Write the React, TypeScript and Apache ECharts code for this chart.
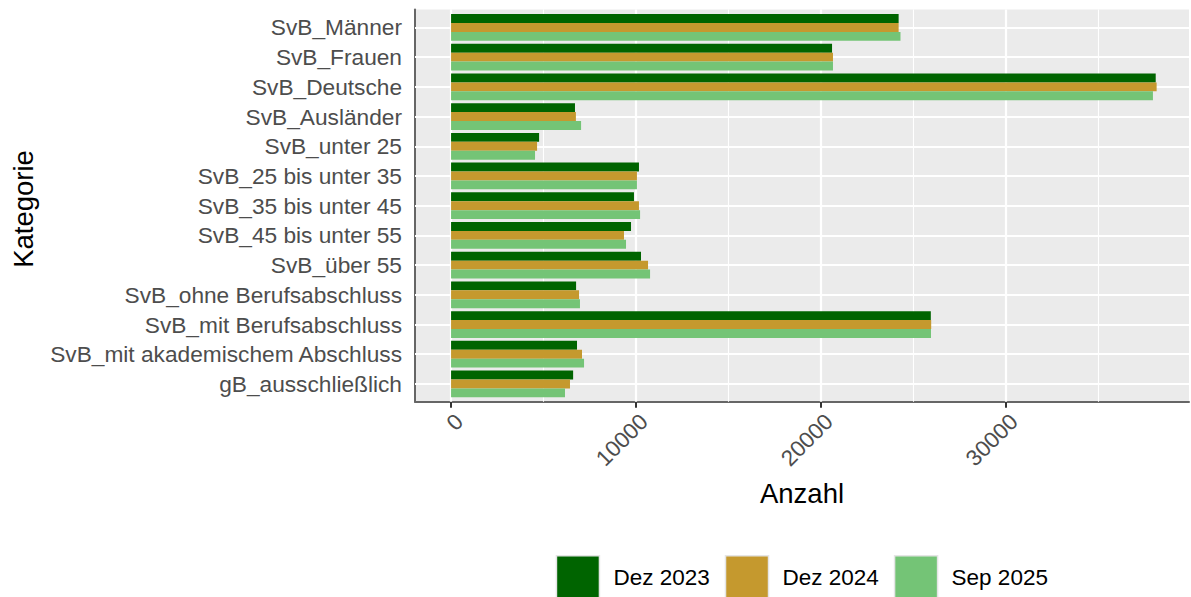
import React, { useEffect, useRef } from "react";
import * as echarts from "echarts";

const categories = [
  "SvB_Männer",
  "SvB_Frauen",
  "SvB_Deutsche",
  "SvB_Ausländer",
  "SvB_unter 25",
  "SvB_25 bis unter 35",
  "SvB_35 bis unter 45",
  "SvB_45 bis unter 55",
  "SvB_über 55",
  "SvB_ohne Berufsabschluss",
  "SvB_mit Berufsabschluss",
  "SvB_mit akademischem Abschluss",
  "gB_ausschließlich",
];
const seriesNames = ["Dez 2023", "Dez 2024", "Sep 2025"];
const dez2023 = [24200, 20600, 38100, 6700, 4760, 10160, 9890, 9730, 10270, 6760, 25940, 6810, 6600];
const dez2024 = [24200, 20650, 38150, 6750, 4650, 10050, 10160, 9350, 10650, 6920, 25960, 7080, 6430];
const sep2025 = [24300, 20650, 37950, 7030, 4540, 10050, 10220, 9460, 10760, 6970, 25950, 7190, 6160];
const xTicks = [0, 10000, 20000, 30000];
const xMinorTicks = [5000, 15000, 25000, 35000];
const xTitle = "Anzahl";
const yTitle = "Kategorie";

const colors = ["#006400", "#C5992E", "#74C476"];
const FONT = "'Liberation Sans', Arial, Helvetica, sans-serif";

export default function App() {
  const ref = useRef<HTMLDivElement>(null);
  useEffect(() => {
    if (!ref.current) return;
    const chart = echarts.init(ref.current, null, { renderer: "svg" });
    const values = [dez2023, dez2024, sep2025];
    const option: any = {
      animation: false,
      textStyle: { fontFamily: FONT },
      grid: [
        { left: 415, right: 2, top: 9.6, bottom: 195.2, show: true, backgroundColor: "#EBEBEB", borderWidth: 0 },
        { left: 415, right: 2, top: 12.6, bottom: 198.2, show: false },
      ],
      xAxis: [
        {
          type: "value",
          gridIndex: 0,
          min: -1950,
          max: 39900,
          splitLine: { show: false },
          axisLine: { show: true, onZero: false, lineStyle: { color: "#666666", width: 2 } },
          axisTick: { show: true, customValues: xTicks, length: 6, lineStyle: { color: "#333333", width: 2 } },
          axisLabel: {
            show: true,
            customValues: xTicks,
            rotate: 45,
            color: "#4D4D4D",
            fontSize: 22.5,
            fontFamily: FONT,
            margin: 8,
            align: "right",
            verticalAlign: "top",
            formatter: (v: number) => String(v),
          },
        },
        { type: "value", gridIndex: 1, min: -1950, max: 39900, show: false, splitLine: { show: false } },
      ],
      yAxis: [
        {
          type: "value",
          gridIndex: 0,
          min: 0,
          max: 1,
          axisLine: { show: true, onZero: false, lineStyle: { color: "#666666", width: 2 } },
          axisTick: { show: false },
          axisLabel: { show: false },
          splitLine: { show: false },
        },
        {
          type: "category",
          gridIndex: 1,
          data: categories,
          inverse: true,
          axisLine: { show: false },
          axisTick: { show: true, alignWithLabel: true, interval: 0, length: 6, lineStyle: { color: "#333333", width: 2 } },
          axisLabel: { color: "#4D4D4D", fontSize: 22.7, fontFamily: FONT, margin: 13, interval: 0, hideOverlap: false },
          splitLine: { show: false },
        },
      ],
      legend: {
        data: seriesNames,
        left: 555.7,
        top: 555,
        padding: 0,
        itemWidth: 43,
        itemHeight: 43,
        itemGap: 15,
        icon: "rect",
        itemStyle: { borderColor: "#E5E5E5", borderWidth: 1.5 },
        textStyle: { fontSize: 22.5, color: "#000", fontFamily: FONT, padding: [0, 0, 0, 9] },
      },
      graphic: [
        {
          type: "text",
          x: 802,
          y: 493,
          style: { text: xTitle, fontSize: 27.5, fontFamily: FONT, fill: "#000", align: "center", verticalAlign: "middle" },
        },
        {
          type: "text",
          x: 23,
          y: 209,
          rotation: Math.PI / 2,
          style: { text: yTitle, fontSize: 27.5, fontFamily: FONT, fill: "#000", align: "center", verticalAlign: "middle" },
        },
      ],
      series: [
        {
          type: "line",
          xAxisIndex: 0,
          yAxisIndex: 0,
          data: [],
          z: 1,
          silent: true,
          markLine: {
            silent: true,
            symbol: ["none", "none"],
            label: { show: false },
            lineStyle: { color: "#FFFFFF", type: "solid" },
            data: [
              ...xTicks.map((v) => ({ xAxis: v, lineStyle: { width: 2.2, color: "#FFFFFF", type: "solid" } })),
              ...xMinorTicks.map((v) => ({ xAxis: v, lineStyle: { width: 1.1, color: "#FFFFFF", type: "solid" } })),
            ],
          },
        },
        {
          type: "line",
          xAxisIndex: 1,
          yAxisIndex: 1,
          data: [],
          z: 1,
          silent: true,
          markLine: {
            silent: true,
            symbol: ["none", "none"],
            label: { show: false },
            lineStyle: { color: "#FFFFFF", type: "solid", width: 2.2 },
            data: categories.map((c) => ({ yAxis: c })),
          },
        },
        ...seriesNames.map((name, i) => ({
          name,
          type: "bar",
          xAxisIndex: 1,
          yAxisIndex: 1,
          data: values[i],
          barGap: "0%",
          barCategoryGap: "10%",
          itemStyle: { color: colors[i] },
          z: 10,
        })),
      ],
    };
    chart.setOption(option);
    return () => chart.dispose();
  }, []);
  return <div ref={ref} style={{ position: "absolute", left: 0, top: 0, width: 1191, height: 597 }} />;
}
